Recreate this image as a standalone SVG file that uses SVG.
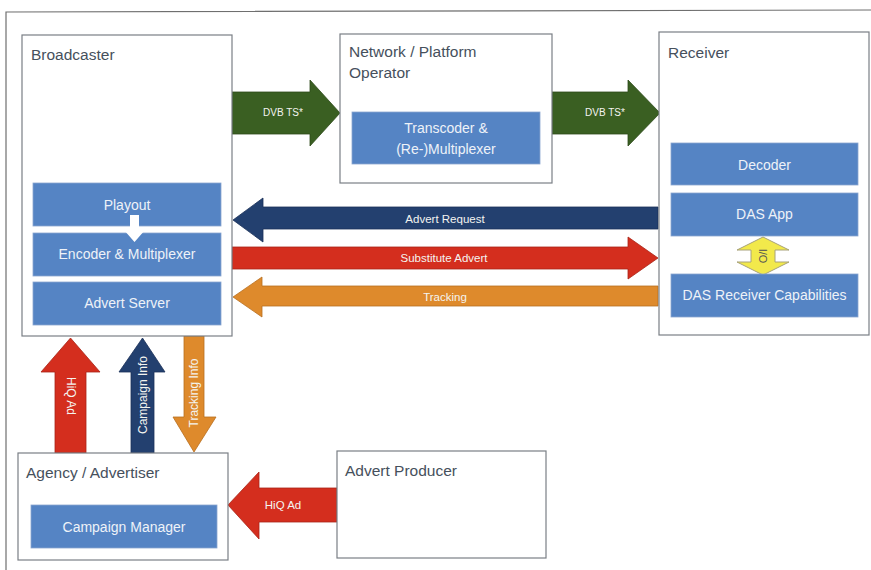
<svg xmlns="http://www.w3.org/2000/svg" width="871" height="570" viewBox="0 0 871 570">
<style>
.box{fill:#fff;stroke:#7a7f85;stroke-width:1.2}
.blk{fill:#5584c4;stroke:#8aa6cf;stroke-width:0.8}
.title{font-family:"Liberation Sans",Arial,sans-serif;font-size:15.5px;fill:#46505c}
.lbl{font-family:"Liberation Sans",Arial,sans-serif;font-size:14px;fill:#eef2f8;text-anchor:middle}
.al{font-family:"Liberation Sans",Arial,sans-serif;font-size:11.5px;fill:#f4f4f0;text-anchor:middle}
.vl{font-family:"Liberation Sans",Arial,sans-serif;font-size:12px;fill:#f4f4f0;text-anchor:middle;dominant-baseline:central}
.g{fill:#3a5f22;stroke:#2d4a1a;stroke-width:0.8}
.b{fill:#23406f;stroke:#1a3058;stroke-width:0.8}
.r{fill:#d42e1e;stroke:#a82416;stroke-width:0.8}
.o{fill:#de8a2c;stroke:#b86f20;stroke-width:0.8}
.y{fill:#f2e94b;stroke:#a8a27a;stroke-width:1}
</style>
<rect x="0" y="0" width="871" height="570" fill="#fff"/>
<path d="M6,570 L6,12 L871,10" fill="none" stroke="#6f6f6f" stroke-width="1.2"/>

<g id="connectors">
  <polygon class="g" points="232,92 310,92 310,80 340,113 310,146 310,134 232,134"/>
  <text class="al" x="283" y="116" style="font-size:10px">DVB TS*</text>
  <polygon class="g" points="552,92 628,92 628,80 660,113 628,146 628,134 552,134"/>
  <text class="al" x="605" y="116" style="font-size:10px">DVB TS*</text>

  <polygon class="b" points="658,207 263,207 263,198 233,220 263,242 263,229 658,229"/>
  <text class="al" x="445" y="223">Advert Request</text>
  <polygon class="r" points="232,247 628,247 628,237 658,258 628,279 628,269 232,269"/>
  <text class="al" x="444" y="262">Substitute Advert</text>
  <polygon class="o" points="658,286 262,286 262,277 233,297 262,317 262,306 658,306"/>
  <text class="al" x="445" y="301">Tracking</text>

  <polygon class="r" points="55,453 55,372 41,372 70.5,338 100,372 86,372 86,453"/>
  <text class="vl" transform="translate(70.5,396) rotate(90)">HiQ Ad</text>
  <polygon class="b" points="131,453 131,372 119,372 142.5,338 165,372 154,372 154,453"/>
  <text class="vl" transform="translate(142.5,395) rotate(-90)">Campaign Info</text>
  <polygon class="o" points="184,336 204,336 204,417 216,417 194,452 173,417 184,417"/>
  <text class="vl" transform="translate(194,393) rotate(-90)">Tracking Info</text>

  <polygon class="r" points="337,488 259,488 259,472 228,505 259,539 259,522 337,522"/>
  <text class="al" x="283" y="509">HiQ Ad</text>
</g>

<g id="broadcaster">
  <rect class="box" x="22" y="35" width="210" height="301"/>
  <text class="title" x="31" y="60">Broadcaster</text>
</g>
<g id="playout">
  <rect class="blk" x="33" y="183" width="188" height="43"/>
  <text class="lbl" x="127" y="210">Playout</text>
</g>
<g id="encoder">
  <rect class="blk" x="33" y="233" width="188" height="43"/>
  <text class="lbl" x="127" y="259">Encoder &amp; Multiplexer</text>
</g>
<g id="advert-server">
  <rect class="blk" x="33" y="282" width="188" height="43"/>
  <text class="lbl" x="127" y="308">Advert Server</text>
</g>
<polygon fill="#fff" points="130,215 139,215 139,230 145,230 134.5,242 124,230 130,230"/>

<g id="network-operator">
  <rect class="box" x="340" y="34" width="212" height="149"/>
  <text class="title" x="349" y="57">Network / Platform</text>
  <text class="title" x="349" y="78">Operator</text>
</g>
<g id="transcoder">
  <rect class="blk" x="352" y="112" width="188" height="52"/>
  <text class="lbl" x="446" y="133">Transcoder &amp;</text>
  <text class="lbl" x="446" y="154">(Re-)Multiplexer</text>
</g>

<g id="receiver">
  <rect class="box" x="659" y="32" width="210" height="303"/>
  <text class="title" x="668" y="58">Receiver</text>
</g>
<g id="decoder">
  <rect class="blk" x="671" y="143" width="187" height="42"/>
  <text class="lbl" x="764.5" y="170">Decoder</text>
</g>
<g id="das-app">
  <rect class="blk" x="671" y="193" width="187" height="43"/>
  <text class="lbl" x="764.5" y="219">DAS App</text>
</g>
<g id="io">
  <polygon class="y" points="763,237 789,250 775,250 775,262 789,262 763,275 737,262 751,262 751,250 737,250"/>
  <text class="vl" transform="translate(763,256) rotate(90)" style="fill:#555;font-size:11px">I/O</text>
</g>
<g id="das-capabilities">
  <rect class="blk" x="671" y="274" width="187" height="43"/>
  <text class="lbl" x="764.5" y="300">DAS Receiver Capabilities</text>
</g>

<g id="agency">
  <rect class="box" x="18" y="453" width="210" height="107"/>
  <text class="title" x="26" y="478">Agency / Advertiser</text>
</g>
<g id="campaign-manager">
  <rect class="blk" x="31" y="505" width="186" height="43"/>
  <text class="lbl" x="124" y="532">Campaign Manager</text>
</g>

<g id="advert-producer">
  <rect class="box" x="337" y="451" width="209" height="107"/>
  <text class="title" x="345" y="476">Advert Producer</text>
</g>
</svg>
